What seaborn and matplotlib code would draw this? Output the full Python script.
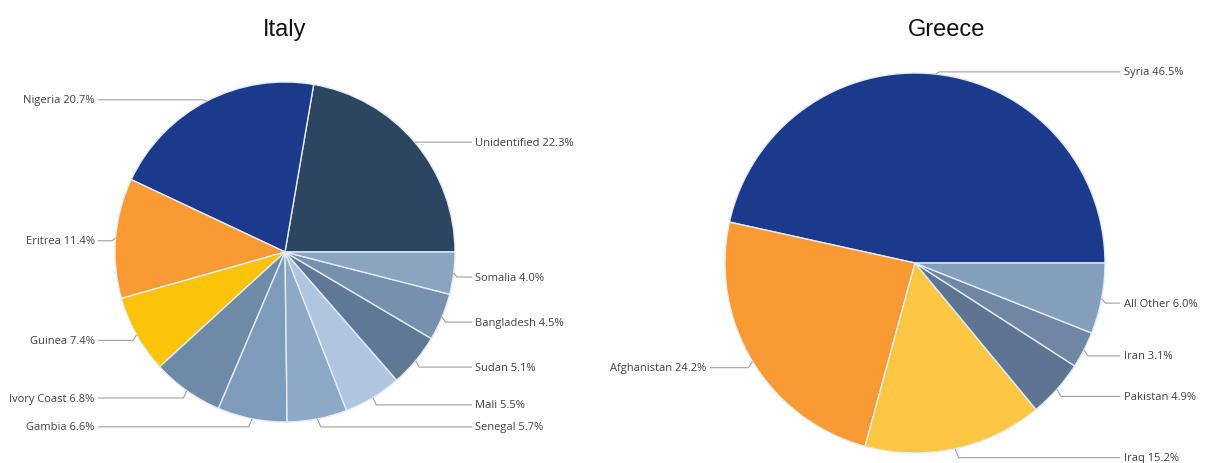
import numpy as np
import matplotlib
matplotlib.use("Agg")
import matplotlib.pyplot as plt
import seaborn as sns

# Arrivals by nationality (share of total, %)
italy_countries = ["Unidentified", "Nigeria", "Eritrea", "Guinea", "Ivory Coast", "Gambia",
                   "Senegal", "Mali", "Sudan", "Bangladesh", "Somalia"]
italy_shares = [22.3, 20.7, 11.4, 7.4, 6.8, 6.6, 5.7, 5.5, 5.1, 4.5, 4.0]
italy_colors = ["#2c4560", "#1c3a8c", "#f99a32", "#fcc30b", "#6f8aa7", "#7f9bbb",
                "#8ea9c8", "#b0c6de", "#5f7896", "#7690ad", "#8ba5c1"]

greece_countries = ["Syria", "Afghanistan", "Iraq", "Pakistan", "Iran", "All Other"]
greece_shares = [46.5, 24.2, 15.2, 4.9, 3.1, 6.0]
greece_colors = ["#1c3a8c", "#f99a32", "#fdc643", "#5d7592", "#6f87a4", "#849fbb"]

sns.set_theme(style="white")
plt.rcParams["font.family"] = ["Open Sans", "DejaVu Sans"]

W, H = 1208, 464
fig = plt.figure(figsize=(W / 100, H / 100), dpi=100)
fig.patch.set_facecolor("white")


def make_axes(cx, cy, r, xl, yl):
    left = (cx + xl[0] * r) / W
    width = (xl[1] - xl[0]) * r / W
    bottom = (H - (cy - yl[0] * r)) / H
    height = (yl[1] - yl[0]) * r / H
    ax = fig.add_axes([left, bottom, width, height])
    return ax


def draw_pie(ax, names, shares, colors, label_x, xl, yl):
    wedges, _ = ax.pie(shares, colors=colors, startangle=0, counterclock=True,
                       radius=1.0, normalize=True,
                       wedgeprops=dict(edgecolor="#e3ebf3", linewidth=1.0))
    ax.set_aspect("auto")
    ax.set_xlim(*xl)
    ax.set_ylim(*yl)
    ax.axis("off")
    for w, name, v in zip(wedges, names, shares):
        ang = np.deg2rad((w.theta1 + w.theta2) / 2)
        ex, ey = np.cos(ang), np.sin(ang)
        side = 1 if ex >= 0 else -1
        ty = ey * 1.03 - 0.018
        tx = side * label_x
        ax.plot([ex, ex + side * 0.02, tx - side * 0.02], [ey, ty, ty],
                color="#a0a0a0", lw=0.8, solid_capstyle="butt", clip_on=False)
        ax.text(tx, ty, f"{name} {v:.1f}%", ha="left" if side > 0 else "right",
                va="center", fontsize=8, color="#404040")


it_xl, it_yl = (-1.65, 1.85), (-1.2, 1.2)
ax_it = make_axes(285, 253, 170, it_xl, it_yl)
draw_pie(ax_it, italy_countries, italy_shares, italy_colors, 1.12, it_xl, it_yl)

gr_xl, gr_yl = (-1.6, 1.6), (-1.05, 1.1)
ax_gr = make_axes(915, 264, 190, gr_xl, gr_yl)
draw_pie(ax_gr, greece_countries, greece_shares, greece_colors, 1.10, gr_xl, gr_yl)

title_kw = dict(ha="center", va="center", fontsize=17, color="#111111",
                family=["Liberation Sans", "DejaVu Sans"])
fig.text(285 / W, 1 - 30 / H, "Italy", **title_kw)
fig.text(947 / W, 1 - 30 / H, "Greece", **title_kw)

fig.savefig("out.png", dpi=100, facecolor="white")
